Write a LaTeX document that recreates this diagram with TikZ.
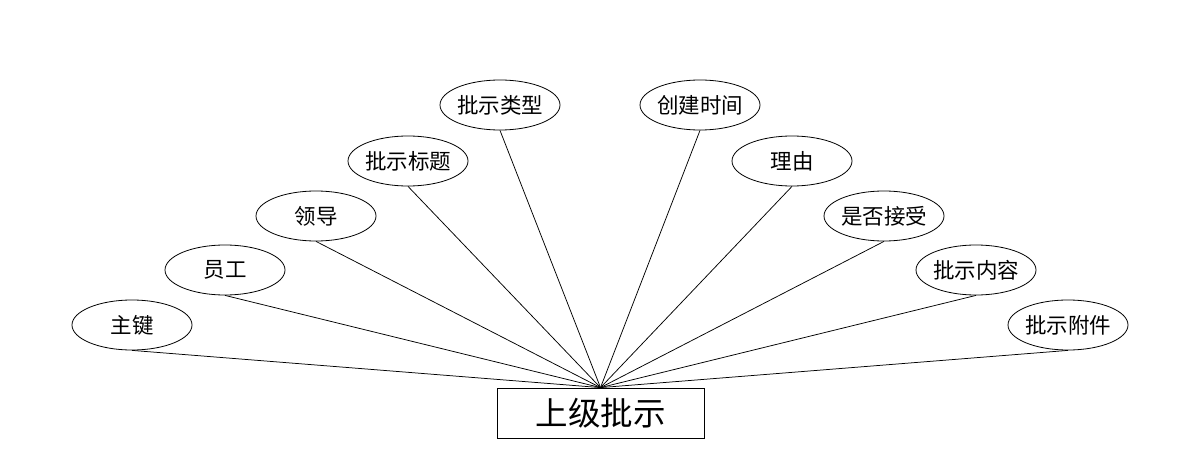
\documentclass[tikz,border=0pt]{standalone}
\usepackage{fontspec}
\setmainfont{Noto Sans CJK SC}
\usetikzlibrary{positioning,shapes.geometric}
\tikzset{
  shuxing/.style={ellipse,draw=black,line width=0.8pt,minimum width=120pt,minimum height=50pt,inner xsep=-5pt,inner ysep=1pt,font=\fontsize{21.5}{24}\selectfont},
  shiti/.style={rectangle,draw=black,line width=0.8pt,minimum width=207pt,minimum height=50pt,inner sep=1pt,font=\fontsize{32.5}{35}\selectfont},
  lianxian/.style={line width=0.75pt},
}
\begin{document}
\begin{tikzpicture}[x=1pt,y=-1pt]
  \useasboundingbox (0,0) rectangle (1200,468);
  \node[shiti] (pishi) at (600.5,413) {上级批示};
  \node[shuxing] (zhujian) at (132,325) {主键};
  \node[shuxing] (yuangong) at (225,270) {员工};
  \node[shuxing] (lingdao) at (316,216) {领导};
  \node[shuxing] (biaoti) at (408,161) {批示标题};
  \node[shuxing] (leixing) at (500,105) {批示类型};
  \node[shuxing] (shijian) at (700,105) {创建时间};
  \node[shuxing] (liyou) at (792,161) {理由};
  \node[shuxing] (jieshou) at (884,216) {是否接受};
  \node[shuxing] (neirong) at (976,270) {批示内容};
  \node[shuxing] (fujian) at (1068,325) {批示附件};
  \foreach \n in {zhujian,yuangong,lingdao,biaoti,leixing,shijian,liyou,jieshou,neirong,fujian}
    \draw[lianxian] (\n.south) -- (pishi.north);
\end{tikzpicture}
\end{document}
